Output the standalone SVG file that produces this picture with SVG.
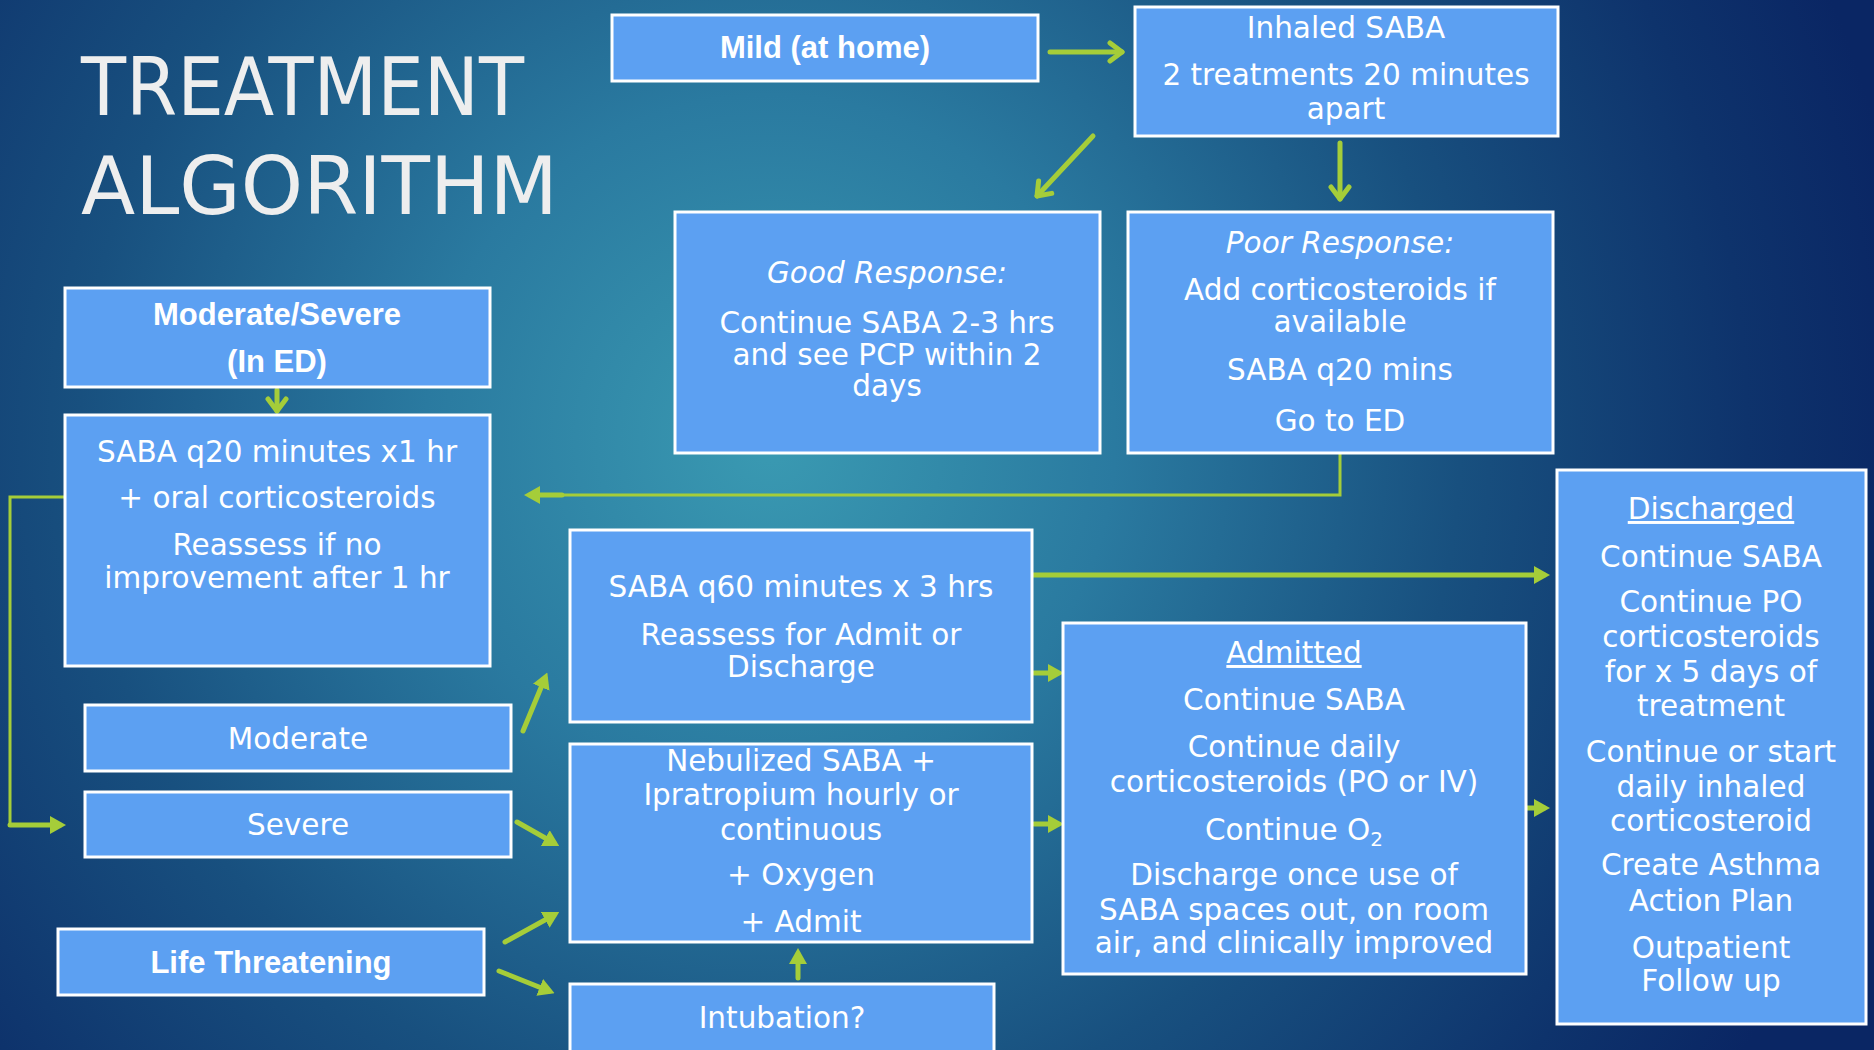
<svg xmlns="http://www.w3.org/2000/svg" width="1874" height="1050" viewBox="0 0 1874 1050">
<defs>
<radialGradient id="bg" gradientUnits="userSpaceOnUse" cx="770" cy="440" r="1150">
<stop offset="0" stop-color="#3A9AB2"/>
<stop offset="0.3" stop-color="#2A7AA0"/>
<stop offset="0.6" stop-color="#18507F"/>
<stop offset="0.85" stop-color="#0E336C"/>
<stop offset="1" stop-color="#0A2664"/>
</radialGradient>
<marker id="tri" viewBox="0 0 16 18" refX="10" refY="9" markerWidth="16" markerHeight="18" markerUnits="userSpaceOnUse" orient="auto">
<path d="M0,0 L16,9 L0,18 z" fill="#A5CD39"/>
</marker>
<marker id="chev" viewBox="0 0 20 24" refX="16" refY="12" markerWidth="20" markerHeight="24" markerUnits="userSpaceOnUse" orient="auto">
<path d="M4,3 L16,12 L4,21" fill="none" stroke="#A5CD39" stroke-width="5" stroke-linecap="round" stroke-linejoin="round"/>
</marker>
</defs>
<style>
.box{fill:#5CA0F2;stroke:#FFFFFF;stroke-width:3}
.t{font-family:"DejaVu Sans",sans-serif;font-size:29.5px;fill:#FFFFFF;text-anchor:middle}
.b{font-family:"Liberation Sans",Arial,sans-serif;font-weight:bold;font-size:31px;fill:#FFFFFF;text-anchor:middle}
.i{font-style:italic}
.u{text-decoration:underline}
.title{font-family:"DejaVu Sans",sans-serif;font-size:80px;fill:#EEEEEE}
.c{fill:none;stroke:#A5CD39;stroke-width:5;stroke-linecap:round;stroke-linejoin:miter}
.ct{fill:none;stroke:#A5CD39;stroke-width:3}
.ta{marker-end:url(#tri)}
.ch{marker-end:url(#chev)}
</style>
<rect x="0" y="0" width="1874" height="1050" fill="url(#bg)"/>

<g id="title">
<text class="title" x="81" y="115" textLength="443" lengthAdjust="spacingAndGlyphs">TREATMENT</text>
<text class="title" x="81" y="214" textLength="477" lengthAdjust="spacingAndGlyphs">ALGORITHM</text>
</g>

<g id="connectors">
<line class="c ch" x1="1050" y1="52" x2="1122" y2="52"/>
<line class="c ch" x1="1093" y1="136" x2="1037" y2="196"/>
<line class="c ch" x1="1340" y1="143" x2="1340" y2="199"/>
<line class="c ch" x1="277" y1="390" x2="277" y2="411"/>
<polyline class="ct" points="1340,454 1340,495 560,495"/>
<line class="c ta" x1="562" y1="495" x2="530" y2="495"/>
<polyline class="ct" points="65,497 10,497 10,825"/>
<line class="c ta" x1="10" y1="825" x2="60" y2="825"/>
<line class="c ta" x1="523" y1="731" x2="545" y2="678"/>
<line class="c ta" x1="517" y1="822" x2="554" y2="843"/>
<line class="c ta" x1="505" y1="942" x2="554" y2="915"/>
<line class="c ta" x1="499" y1="971" x2="549" y2="991"/>
<line class="c ta" x1="798" y1="978" x2="798" y2="954"/>
<line class="c ta" x1="1032" y1="575" x2="1544" y2="575"/>
<line class="c ta" x1="1034" y1="673" x2="1058" y2="673"/>
<line class="c ta" x1="1034" y1="824" x2="1058" y2="824"/>
<line class="c ta" x1="1526" y1="808" x2="1544" y2="808"/>
</g>

<g id="mild">
<rect class="box" x="612" y="15" width="426" height="66"/>
<text class="b" x="825" y="58">Mild (at home)</text>
</g>

<g id="inhaled-saba">
<rect class="box" x="1135" y="7" width="423" height="129"/>
<text class="t" x="1346" y="38">Inhaled SABA</text>
<text class="t" x="1346" y="85">2 treatments 20 minutes</text>
<text class="t" x="1346" y="119">apart</text>
</g>

<g id="good-response">
<rect class="box" x="675" y="212" width="425" height="241"/>
<text class="t i" x="887" y="283">Good Response:</text>
<text class="t" x="887" y="333">Continue SABA 2-3 hrs</text>
<text class="t" x="887" y="365">and see PCP within 2</text>
<text class="t" x="887" y="396">days</text>
</g>

<g id="poor-response">
<rect class="box" x="1128" y="212" width="425" height="241"/>
<text class="t i" x="1340" y="253">Poor Response:</text>
<text class="t" x="1340" y="300">Add corticosteroids if</text>
<text class="t" x="1340" y="332">available</text>
<text class="t" x="1340" y="380">SABA q20 mins</text>
<text class="t" x="1340" y="431">Go to ED</text>
</g>

<g id="moderate-severe">
<rect class="box" x="65" y="288" width="425" height="99"/>
<text class="b" x="277" y="325">Moderate/Severe</text>
<text class="b" x="277" y="372">(In ED)</text>
</g>

<g id="saba-q20">
<rect class="box" x="65" y="415" width="425" height="251"/>
<text class="t" x="277" y="462">SABA q20 minutes x1 hr</text>
<text class="t" x="277" y="508">+ oral corticosteroids</text>
<text class="t" x="277" y="555">Reassess if no</text>
<text class="t" x="277" y="588">improvement after 1 hr</text>
</g>

<g id="saba-q60">
<rect class="box" x="570" y="530" width="462" height="192"/>
<text class="t" x="801" y="597">SABA q60 minutes x 3 hrs</text>
<text class="t" x="801" y="645">Reassess for Admit or</text>
<text class="t" x="801" y="677">Discharge</text>
</g>

<g id="nebulized">
<rect class="box" x="570" y="744" width="462" height="198"/>
<text class="t" x="801" y="771">Nebulized SABA +</text>
<text class="t" x="801" y="805">Ipratropium hourly or</text>
<text class="t" x="801" y="840">continuous</text>
<text class="t" x="801" y="885">+ Oxygen</text>
<text class="t" x="801" y="932">+ Admit</text>
</g>

<g id="moderate">
<rect class="box" x="85" y="705" width="426" height="66"/>
<text class="t" x="298" y="749">Moderate</text>
</g>

<g id="severe">
<rect class="box" x="85" y="792" width="426" height="65"/>
<text class="t" x="298" y="835">Severe</text>
</g>

<g id="life-threatening">
<rect class="box" x="58" y="929" width="426" height="66"/>
<text class="b" x="271" y="973">Life Threatening</text>
</g>

<g id="intubation">
<rect class="box" x="570" y="984" width="424" height="80"/>
<text class="t" x="782" y="1028">Intubation?</text>
</g>

<g id="admitted">
<rect class="box" x="1063" y="623" width="463" height="351"/>
<text class="t u" x="1294" y="663">Admitted</text>
<text class="t" x="1294" y="710">Continue SABA</text>
<text class="t" x="1294" y="757">Continue daily</text>
<text class="t" x="1294" y="792">corticosteroids (PO or IV)</text>
<text class="t" x="1294" y="840">Continue O<tspan font-size="20" dy="6">2</tspan></text>
<text class="t" x="1294" y="885">Discharge once use of</text>
<text class="t" x="1294" y="920">SABA spaces out, on room</text>
<text class="t" x="1294" y="953">air, and clinically improved</text>
</g>

<g id="discharged">
<rect class="box" x="1557" y="470" width="309" height="554"/>
<text class="t u" x="1711" y="519">Discharged</text>
<text class="t" x="1711" y="567">Continue SABA</text>
<text class="t" x="1711" y="612">Continue PO</text>
<text class="t" x="1711" y="647">corticosteroids</text>
<text class="t" x="1711" y="682">for x 5 days of</text>
<text class="t" x="1711" y="716">treatment</text>
<text class="t" x="1711" y="762">Continue or start</text>
<text class="t" x="1711" y="797">daily inhaled</text>
<text class="t" x="1711" y="831">corticosteroid</text>
<text class="t" x="1711" y="875">Create Asthma</text>
<text class="t" x="1711" y="911">Action Plan</text>
<text class="t" x="1711" y="958">Outpatient</text>
<text class="t" x="1711" y="991">Follow up</text>
</g>
</svg>
